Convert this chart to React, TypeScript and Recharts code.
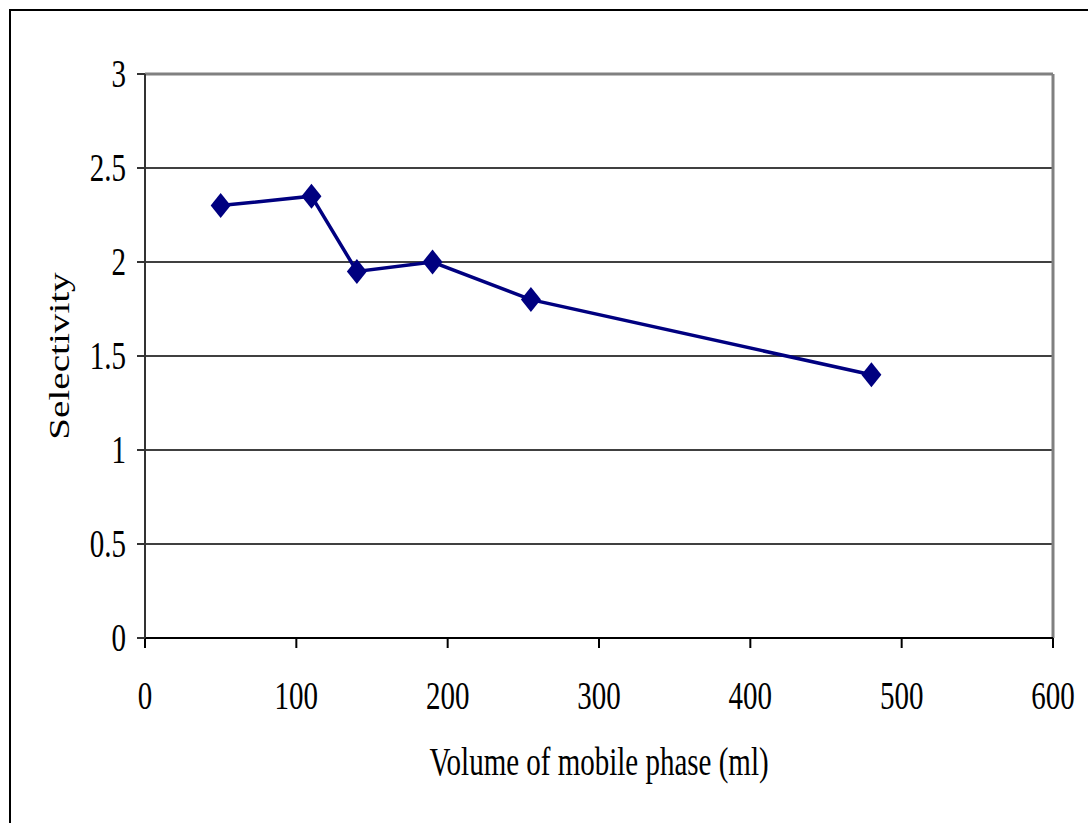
import { LineChart, Line, XAxis, YAxis, CartesianGrid, ReferenceLine } from "recharts";

const volumes = [50, 110, 140, 190, 255, 480];
const selectivity = [2.3, 2.35, 1.95, 2.0, 1.8, 1.4];
const xTicks = [0, 100, 200, 300, 400, 500, 600];
const yTicks = [0, 0.5, 1, 1.5, 2, 2.5, 3];

const data = volumes.map((v, i) => ({ volume: v, sel: selectivity[i] }));

const font = "'Liberation Serif', 'Times New Roman', serif";
const fs = 29;
const stretch = 1.35;

const Diamond = (props: any) => {
  const { cx, cy } = props;
  if (cx == null || cy == null) return null;
  return (
    <polygon
      points={`${cx},${cy - 12.5} ${cx + 10},${cy} ${cx},${cy + 12.5} ${cx - 10},${cy}`}
      fill="#000080"
    />
  );
};

const XTick = (props: any) => {
  const { x, y, payload } = props;
  return (
    <text
      transform={`translate(${x},${y + 59}) scale(1,${stretch})`}
      textAnchor="middle"
      fill="#000"
      fontSize={fs}
      fontFamily={font}
    >
      {payload.value}
    </text>
  );
};

const YTick = (props: any) => {
  const { x, y, payload } = props;
  return (
    <text
      transform={`translate(${x - 9},${y + 13}) scale(1,${stretch})`}
      textAnchor="end"
      fill="#000"
      fontSize={fs}
      fontFamily={font}
    >
      {payload.value}
    </text>
  );
};

const XTitle = (props: any) => {
  const { viewBox } = props;
  const cx = viewBox.x + viewBox.width / 2;
  return (
    <text
      transform={`translate(${cx},${viewBox.y + 137}) scale(1,${stretch})`}
      textAnchor="middle"
      fill="#000"
      fontSize={fs}
      fontFamily={font}
    >
      Volume of mobile phase (ml)
    </text>
  );
};

const YTitle = (props: any) => {
  const { viewBox } = props;
  const cy = viewBox.y + viewBox.height / 2;
  return (
    <text
      transform={`translate(${viewBox.x - 16},${cy}) scale(1,${stretch}) rotate(-90)`}
      textAnchor="middle"
      fill="#000"
      fontSize={fs}
      fontFamily={font}
    >
      Selectivity
    </text>
  );
};

const App = () => {
  return (
    <div
      style={{
        position: "absolute",
        left: 0,
        top: 0,
        width: 1088,
        height: 823,
        overflow: "hidden",
        background: "#fff",
      }}
    >
      <div
        style={{
          position: "absolute",
          left: 9,
          top: 9,
          width: 1200,
          height: 1000,
          border: "2px solid #000",
        }}
      />
      <div style={{ position: "absolute", left: 0, top: 0 }}>
        <LineChart
          width={1088}
          height={823}
          data={data}
          margin={{ top: 74, right: 35, left: 85, bottom: 125 }}
        >
          <CartesianGrid vertical={false} stroke="#000" strokeWidth={1.5} />
          <ReferenceLine y={3} stroke="#808080" strokeWidth={3} />
          <ReferenceLine x={600} stroke="#808080" strokeWidth={3} />
          <XAxis
            dataKey="volume"
            type="number"
            domain={[0, 600]}
            ticks={xTicks}
            height={60}
            stroke="#000"
            strokeWidth={2}
            tickSize={10}
            tick={<XTick />}
            label={<XTitle />}
          />
          <YAxis
            type="number"
            domain={[0, 3]}
            ticks={yTicks}
            width={60}
            stroke="#333"
            strokeWidth={2}
            tickSize={8}
            tick={<YTick />}
            label={<YTitle />}
          />
          <Line
            type="linear"
            dataKey="sel"
            stroke="#000080"
            strokeWidth={3.5}
            dot={<Diamond />}
            activeDot={false}
            isAnimationActive={false}
          />
        </LineChart>
      </div>
    </div>
  );
};

export default App;
